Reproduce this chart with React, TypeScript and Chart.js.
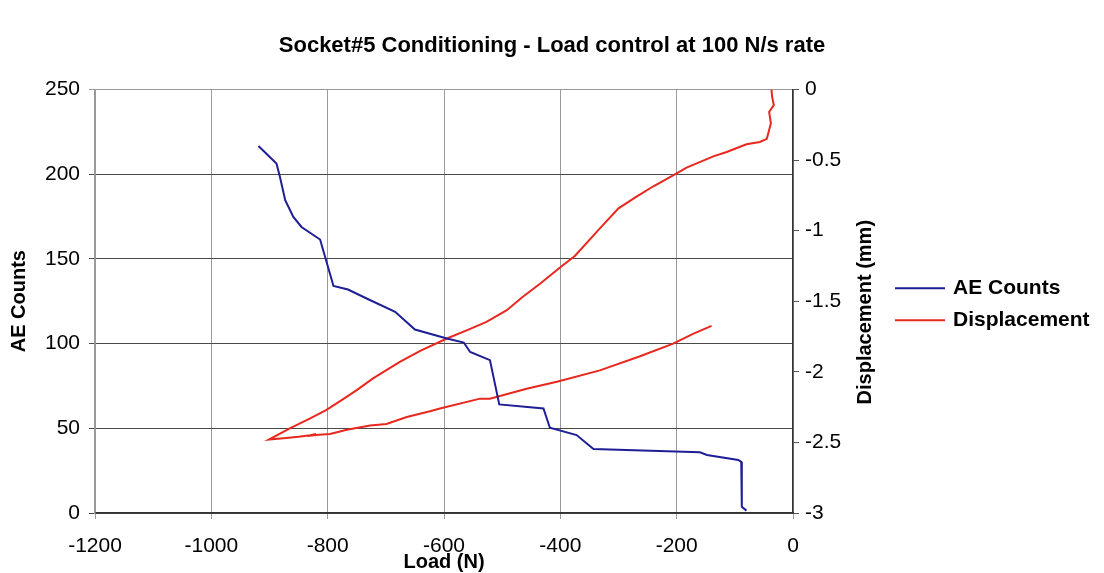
import React, { useEffect, useRef } from "react";
import { Chart, registerables } from "chart.js";

Chart.register(...registerables);

const chartTitle = "Socket#5 Conditioning - Load control at 100 N/s rate";
const xTitle = "Load (N)";
const yTitle = "AE Counts";
const y2Title = "Displacement (mm)";
const seriesNames = ["AE Counts", "Displacement"];

const aeLoad = [-919, -888, -882, -873, -859, -845, -813, -790, -765, -733, -684, -650, -595, -566, -555, -521, -505, -429, -418, -372, -343, -160, -148, -94, -89, -88, -80];
const aeCounts = [216.6, 206.2, 198.3, 184.6, 174.7, 168.8, 161.4, 134, 131.9, 126.6, 118.7, 108.3, 103, 100.6, 95, 90.2, 64.1, 61.7, 50.3, 46, 37.7, 35.8, 34.2, 31.3, 30.2, 3.7, 1.4];

const dispLoad = [-37, -36, -33, -41, -38, -45, -57, -80, -114, -137, -183, -203, -240, -269, -300, -332, -375, -400, -435, -465, -492, -527, -560, -595, -640, -676, -722, -750, -776, -802, -830, -865, -901, -876, -850, -830, -820, -835, -815, -796, -767, -727, -699, -664, -624, -607, -538, -521, -458, -406, -332, -263, -206, -171, -140];
const dispMm = [0.0, -0.05, -0.11, -0.16, -0.24, -0.35, -0.372, -0.389, -0.443, -0.474, -0.554, -0.601, -0.686, -0.76, -0.842, -0.984, -1.18, -1.26, -1.376, -1.47, -1.564, -1.646, -1.705, -1.764, -1.85, -1.93, -2.047, -2.13, -2.2, -2.27, -2.33, -2.4, -2.48, -2.47, -2.46, -2.45, -2.44, -2.455, -2.445, -2.44, -2.41, -2.38, -2.37, -2.32, -2.28, -2.26, -2.19, -2.19, -2.12, -2.07, -1.99, -1.89, -1.8, -1.73, -1.675];

const FONT = "Arial, 'Liberation Sans', Helvetica, sans-serif";

// Draws the right-hand axis title (reading upward, as in the original) and the side legend.
const sideDecor = {
  id: "sideDecor",
  afterDraw(chart: any) {
    const ctx = chart.ctx;
    const area = chart.chartArea;
    const yMid = (area.top + area.bottom) / 2;
    ctx.save();
    // right axis title
    ctx.font = `bold 20px ${FONT}`;
    ctx.fillStyle = "#000";
    ctx.textAlign = "center";
    ctx.textBaseline = "middle";
    ctx.translate(area.right + 72, yMid + 11);
    ctx.rotate(-Math.PI / 2);
    ctx.fillText(y2Title, 0, 0);
    ctx.restore();

    // legend
    const x0 = area.right + 102;
    const gap = 32;
    ctx.save();
    ctx.font = `bold 21px ${FONT}`;
    ctx.textBaseline = "middle";
    ctx.textAlign = "left";
    chart.data.datasets.forEach((d: any, i: number) => {
      const y = yMid - gap / 2 + i * gap + 3;
      ctx.strokeStyle = d.borderColor;
      ctx.lineWidth = 2;
      ctx.beginPath();
      ctx.moveTo(x0, y);
      ctx.lineTo(x0 + 50, y);
      ctx.stroke();
      ctx.fillStyle = "#000";
      ctx.fillText(d.label, x0 + 58, y);
    });
    ctx.restore();
  },
};

export default function App() {
  const ref = useRef<HTMLCanvasElement | null>(null);

  useEffect(() => {
    if (!ref.current) return;
    const chart = new Chart(ref.current, {
      type: "scatter",
      data: {
        datasets: [
          {
            label: seriesNames[0],
            data: aeLoad.map((x, i) => ({ x, y: aeCounts[i] })),
            showLine: true,
            borderColor: "#1e1e96",
            backgroundColor: "#1e1e96",
            borderWidth: 2,
            pointRadius: 0,
            yAxisID: "y",
          },
          {
            label: seriesNames[1],
            data: dispLoad.map((x, i) => ({ x, y: dispMm[i] })),
            showLine: true,
            borderColor: "#e8281e",
            backgroundColor: "#e8281e",
            borderWidth: 2,
            pointRadius: 0,
            yAxisID: "y1",
          },
        ],
      },
      options: {
        responsive: false,
        animation: false,
        layout: { padding: 0 },
        plugins: {
          title: {
            display: true,
            text: chartTitle,
            color: "#000",
            font: { family: FONT, size: 22, weight: "bold" },
            padding: { top: 33, bottom: 30 },
          },
          legend: { display: false },
          tooltip: { enabled: false },
        },
        scales: {
          x: {
            type: "linear",
            min: -1200,
            max: 0,
            ticks: {
              stepSize: 200,
              color: "#000",
              font: { family: FONT, size: 21 },
              padding: 15,
              callback: (v: any) => String(v),
              maxRotation: 0,
            },
            grid: { color: "#9a9a9a", lineWidth: 1, tickLength: 6 },
            border: { color: "#333", width: 1.5 },
            title: {
              display: true,
              text: xTitle,
              color: "#000",
              font: { family: FONT, size: 20, weight: "bold" },
              padding: { top: 0, bottom: -1 },
            },
            afterFit: (s: any) => {
              s.height = 60;
            },
          },
          y: {
            type: "linear",
            position: "left",
            min: 0,
            max: 250,
            ticks: {
              stepSize: 50,
              color: "#000",
              font: { family: FONT, size: 21 },
              padding: 9,
            },
            grid: {
              color: (c: any) => (c.tick && c.tick.value === 250 ? "#9a9a9a" : "#4a4a4a"),
              lineWidth: 1,
              tickLength: 6,
            },
            border: { color: "#9a9a9a", width: 1.5 },
            title: {
              display: true,
              text: yTitle,
              color: "#000",
              font: { family: FONT, size: 20, weight: "bold" },
              padding: { top: 7, bottom: 0 },
            },
            afterFit: (s: any) => {
              s.width = 95;
            },
          },
          y1: {
            type: "linear",
            position: "right",
            min: -3,
            max: 0,
            ticks: {
              stepSize: 0.5,
              color: "#000",
              font: { family: FONT, size: 21 },
              padding: 6,
              callback: (v: any) => String(v),
            },
            grid: { drawOnChartArea: false, color: "#555", tickLength: 6 },
            border: { color: "#333", width: 1.5 },
            title: { display: false },
            afterFit: (s: any) => {
              s.width = 311;
            },
          },
        },
      },
      plugins: [sideDecor],
    });
    return () => chart.destroy();
  }, []);

  return (
    <div style={{ position: "absolute", left: 0, top: 0, width: 1104, height: 573, background: "#fff" }}>
      <canvas ref={ref} width={1104} height={573} style={{ display: "block" }} />
    </div>
  );
}
